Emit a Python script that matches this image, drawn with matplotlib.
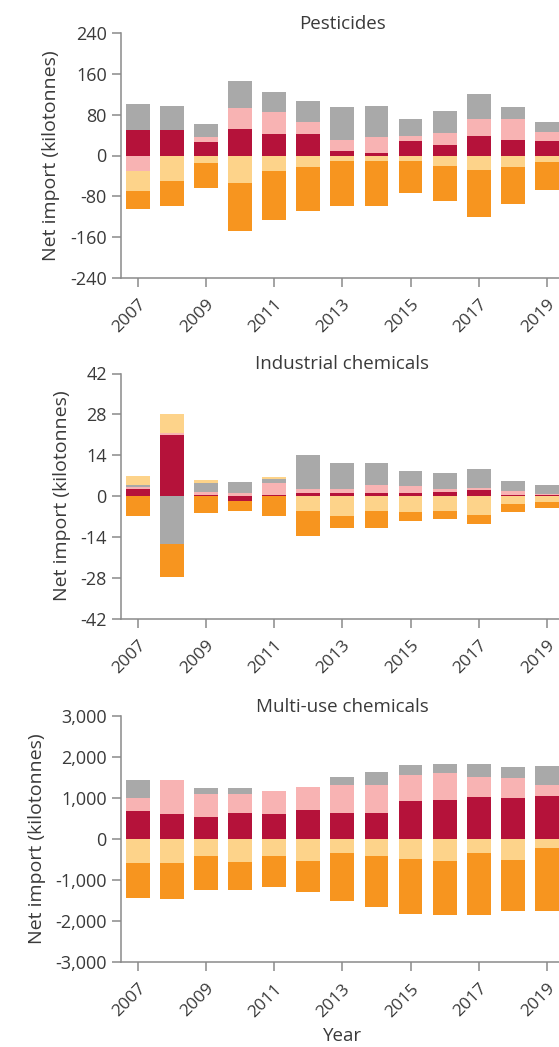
import matplotlib
matplotlib.use("Agg")
import matplotlib.pyplot as plt
import numpy as np
from matplotlib.ticker import FuncFormatter

plt.rcParams['font.family'] = ['Open Sans', 'DejaVu Sans']
plt.rcParams['axes.unicode_minus'] = False

years = list(range(2007, 2020))
series_names = ["Series A", "Series B", "Series C", "Series D", "Series E"]
colors = ["#b5123a", "#f8b3b3", "#a9a9a9", "#fdd38a", "#f7951f"]

# Pesticides (kilotonnes)
pest_a = [50, 50, 26, 52, 42.5, 42.5, 8, 5, 27.5, 20, 39, 31, 27.5]
pest_b = [-31, 0, 11, 40.5, 42.5, 24, 21.5, 31, 11.5, 24, 33, 41, 18]
pest_c = [52, 48, 25, 53, 39, 40, 66.5, 62, 33, 44, 49, 23, 20]
pest_d = [-39, -51, -14, -54, -31, -23, -10, -11, -11, -20, -29, -22, -13]
pest_e = [-35, -48, -49, -94, -95, -86, -89.5, -89, -63, -70, -92, -74, -54]

# Industrial chemicals (kilotonnes)
ind_a = [2.3, 20.9, 0.3, -1.6, 0.3, 1.1, 0.9, 1.1, 1.1, 1.4, 1.9, 0.4, 0.2]
ind_b = [0.9, 0.8, 1.1, 1.2, 4.3, 1.2, 1.4, 2.7, 2.3, 0.9, 0.7, 1.2, 0.6]
ind_c = [0.5, -16.4, 3.2, 3.7, 1.2, 11.7, 8.9, 7.4, 5.2, 5.5, 6.8, 3.6, 3.1]
ind_d = [3.3, 6.3, 0.9, 0.0, 0.8, -5.1, -6.9, -5.0, -5.6, -5.1, -6.5, -2.9, -2.2]
ind_e = [-6.8, -11.4, -5.7, -3.5, -6.9, -8.6, -4.2, -6.1, -3.0, -2.8, -3.1, -2.5, -2.0]

# Multi-use chemicals (kilotonnes)
multi_a = [680, 600, 527, 632, 600, 714, 625, 625, 933, 957, 1014, 997, 1054]
multi_b = [325, 835, 560, 455, 560, 559, 681, 697, 617, 641, 503, 495, 260]
multi_c = [430, 0, 146, 146, 0, 0, 211, 324, 250, 243, 324, 268, 462]
multi_d = [-575, -580, -414, -552, -414, -527, -349, -405, -495, -527, -333, -511, -219]
multi_e = [-865, -885, -827, -689, -762, -771, -1160, -1258, -1330, -1330, -1532, -1233, -1549]

panels = [
    ("Pesticides", [pest_a, pest_b, pest_c, pest_d, pest_e], [-240, -160, -80, 0, 80, 160, 240]),
    ("Industrial chemicals", [ind_a, ind_b, ind_c, ind_d, ind_e], [-42, -28, -14, 0, 14, 28, 42]),
    ("Multi-use chemicals", [multi_a, multi_b, multi_c, multi_d, multi_e], [-3000, -2000, -1000, 0, 1000, 2000, 3000]),
]

W, H = 559, 1047
fig = plt.figure(figsize=(W / 100, H / 100), dpi=100)

ax_left = 120.7 / W
ax_width = 443.3 / W
tops = [33.3, 373.5, 716]
bottoms = [277.7, 618.5, 962]

text_col = "#3a3a3a"
spine_col = "#8a8a8a"

for i, (title, data, yticks) in enumerate(panels):
    ax = fig.add_axes([ax_left, 1 - bottoms[i] / H, ax_width, (bottoms[i] - tops[i]) / H])
    pos_base = np.zeros(len(years))
    neg_base = np.zeros(len(years))
    for vals, col, name in zip(data, colors, series_names):
        v = np.array(vals, dtype=float)
        pos = np.where(v > 0, v, 0)
        neg = np.where(v < 0, v, 0)
        ax.bar(years, pos, bottom=pos_base, width=0.7, color=col, linewidth=0, label=name)
        ax.bar(years, neg, bottom=neg_base, width=0.7, color=col, linewidth=0)
        pos_base += pos
        neg_base += neg
    ax.set_xlim(2006.5, 2019.5)
    ax.set_ylim(yticks[0], yticks[-1])
    ax.set_yticks(yticks)
    if i == 2:
        ax.yaxis.set_major_formatter(FuncFormatter(lambda v, p: f"{int(v):,}"))
    ax.set_xticks(years[::2])
    ax.set_xticklabels([str(y) for y in years[::2]], rotation=45, ha='right',
                       rotation_mode='anchor')
    for s in ['top', 'right']:
        ax.spines[s].set_visible(False)
    for s in ['left', 'bottom']:
        ax.spines[s].set_color(spine_col)
        ax.spines[s].set_linewidth(1.1)
    ax.tick_params(axis='both', colors=spine_col, labelcolor=text_col, labelsize=13,
                   length=6.5, width=1.1)
    ax.tick_params(axis='y', pad=3.5)
    ax.tick_params(axis='x', pad=7, labelsize=12.5)
    ax.set_ylabel("Net import (kilotonnes)", fontsize=14, color=text_col, labelpad=7)
    ax.set_title(title, fontsize=13.5, color=text_col, pad=3)
    if i == 2:
        ax.set_xlabel("Year", fontsize=13.5, color=text_col, labelpad=5)

fig.savefig("out.png", dpi=100)
